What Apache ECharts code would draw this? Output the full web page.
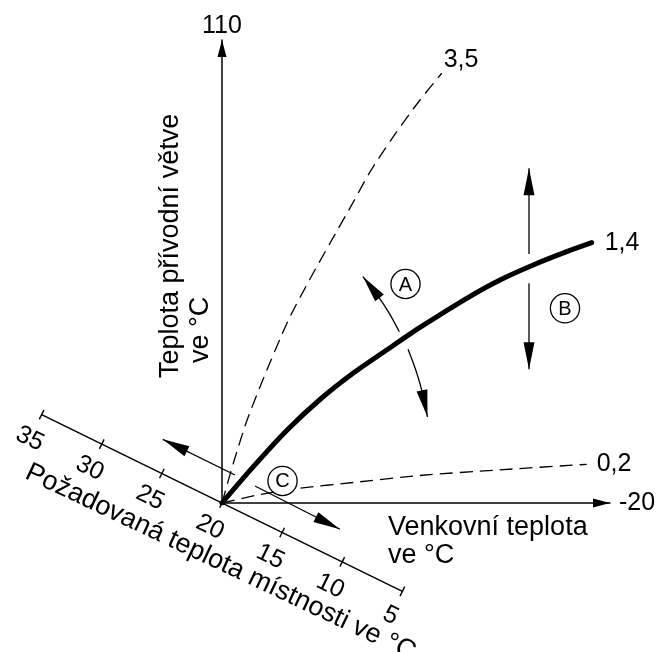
<!DOCTYPE html>
<html>
<head>
<meta charset="utf-8">
<script src="https://cdn.jsdelivr.net/npm/echarts@6/dist/echarts.min.js"></script>
<style>
  html, body { margin: 0; padding: 0; background: #fff; }
  #chart { width: 661px; height: 652px; }
</style>
</head>
<body>
<div id="chart"></div>
<script>
// axis ranges (outdoor temperature runs right to -20, flow temperature up to 110)
const outdoorRange = [-20, 20];
const flowRange = [20, 110];
// desired room temperature, slanted axis
const roomTicks = [35, 30, 25, 20, 15, 10, 5];
const roomAtOrigin = 20;

// heating curves: [outdoor °C, flow °C]
const curve35 = [[20, 20], [18.84, 27.68], [17.45, 35.94], [15.67, 44.49], [13.2, 55.38], [10.93, 63.55], [8.87, 70.49],
  [6.46, 78.51], [4.74, 84.35], [2.34, 91.21], [-0.41, 98.34], [-2.65, 103.53]];
const curve14 = [[20, 20], [16.77, 27.06], [13.33, 34.09], [9.9, 40.12], [6.46, 45.27], [3.02, 49.74], [-0.41, 54.12],
  [-5.23, 59.79], [-8.66, 63.35], [-12.09, 66.27], [-15.54, 68.85], [-18.11, 70.6]];
const curve02 = [[20, 20], [16.08, 21.65], [11.96, 22.86], [6.46, 23.99], [-0.41, 25.35], [-8.66, 26.45], [-17.6, 27.52]];
const curveNames = ['3,5', '1,4', '0,2'];

// annotation arrows, last point = arrow tip
const arrowAUp = [[1.72, 53.3], [2.8, 57.01], [4.08, 60.65], [5.48, 64.01]];
const arrowADown = [[0.82, 49.88], [-0.02, 45.6], [-0.69, 41.23], [-1.18, 36.76]];
const arrowBUp = [[-11.65, 68.41], [-11.65, 85.07]];
const arrowBDown = [[-11.65, 62.71], [-11.65, 45.99]];
const arrowCLeft = [[18.66, 25.44], [26.11, 32.38]];
const arrowCRight = [[16.6, 23.3], [7.84, 14.89]];
const markerNames = ['A', 'B', 'C'];
const markerPos = [[1.08, 62.57], [-15.36, 57.85], [13.76, 24.28]];

const FONT = 'Liberation Sans, Arial, sans-serif';
const ROOM_ANGLE = 26.1 * Math.PI / 180;
const ROOM_STEP = 13.39; // px per °C on the slanted axis
const TITLE_ANGLE = 25.3 * Math.PI / 180;

const arrows = [arrowAUp, arrowADown, arrowBUp, arrowBDown, arrowCLeft, arrowCRight];
const curves = [curve35, curve14, curve02];
const labelOffsets = [[2, -13], [13, 0], [10, 0]];

function roomPoint(api, t) {
  const o = api.coord([outdoorRange[1], flowRange[0]]);
  const d = (roomAtOrigin - t) * ROOM_STEP;
  return [o[0] + d * Math.cos(ROOM_ANGLE), o[1] + d * Math.sin(ROOM_ANGLE)];
}

function renderRoomAxis(params, api) {
  const t = roomTicks[params.dataIndex];
  const p = roomPoint(api, t);
  const nx = -Math.sin(ROOM_ANGLE), ny = Math.cos(ROOM_ANGLE);
  const children = [
    { type: 'line', shape: { x1: p[0] - nx * 5.3, y1: p[1] - ny * 5.3, x2: p[0] + nx * 5.3, y2: p[1] + ny * 5.3 },
      style: { stroke: '#000', lineWidth: 1.4 } },
    { type: 'text', x: p[0] + nx * 27, y: p[1] + ny * 27, rotation: -ROOM_ANGLE,
      style: { text: String(t), fontSize: 25, fontFamily: FONT, fill: '#000', align: 'center', verticalAlign: 'middle' } }
  ];
  if (params.dataIndex === 0) {
    const a = roomPoint(api, roomTicks[0]);
    const b = roomPoint(api, roomTicks[roomTicks.length - 1]);
    children.push({ type: 'line', shape: { x1: a[0], y1: a[1], x2: b[0], y2: b[1] }, style: { stroke: '#000', lineWidth: 1.5 } });
  }
  return { type: 'group', children: children };
}

function renderArrow(params, api) {
  const pts = arrows[params.dataIndex].map(p => api.coord(p));
  const tip = pts[pts.length - 1], prev = pts[pts.length - 2];
  const dx = tip[0] - prev[0], dy = tip[1] - prev[1];
  const len = Math.hypot(dx, dy);
  const ux = dx / len, uy = dy / len;
  const L = 27, W = 11;
  const bx = tip[0] - ux * L, by = tip[1] - uy * L;
  return {
    type: 'group',
    children: [
      { type: 'polyline', shape: { points: pts, smooth: pts.length > 2 ? 0.3 : 0 },
        style: { stroke: '#000', lineWidth: 1.3, fill: null } },
      { type: 'polygon', shape: { points: [tip, [bx - uy * W / 2, by + ux * W / 2], [bx + uy * W / 2, by - ux * W / 2]] },
        style: { fill: '#000' } }
    ]
  };
}

function renderMarker(params, api) {
  const p = api.coord(markerPos[params.dataIndex]);
  return {
    type: 'group',
    children: [
      { type: 'circle', shape: { cx: p[0], cy: p[1], r: 14.6 }, style: { fill: '#fff', stroke: '#000', lineWidth: 1.3 } },
      { type: 'text', x: p[0], y: p[1] + 1, style: { text: markerNames[params.dataIndex], fontSize: 20, fontFamily: FONT,
        fill: '#000', align: 'center', verticalAlign: 'middle' } }
    ]
  };
}

function renderCurveLabel(params, api) {
  const c = curves[params.dataIndex];
  const p = api.coord(c[c.length - 1]);
  const off = labelOffsets[params.dataIndex];
  return { type: 'text', x: p[0] + off[0], y: p[1] + off[1],
    style: { text: curveNames[params.dataIndex], fontSize: 25, fontFamily: FONT, fill: '#000', align: 'left', verticalAlign: 'middle' } };
}

function titleText(text, x, y, rotation) {
  return { type: 'text', x: x, y: y, rotation: rotation || 0,
    style: { text: text, fontSize: 27, fontFamily: FONT, fill: '#000', align: 'left', verticalAlign: 'middle' } };
}

const chart = echarts.init(document.getElementById('chart'));
chart.setOption({
  animation: false,
  backgroundColor: '#fff',
  grid: { left: 222, right: 51, top: 40, bottom: 149, outerBoundsMode: 'none' },
  xAxis: {
    type: 'value', min: outdoorRange[0], max: outdoorRange[1], inverse: true,
    name: String(outdoorRange[0]), nameLocation: 'start', nameGap: 9,
    nameTextStyle: { fontSize: 25, fontFamily: FONT, color: '#000' },
    axisLine: { onZero: false, symbol: ['none', 'triangle'], symbolSize: [9, 17], symbolOffset: [0, -8.5],
      lineStyle: { color: '#000', width: 1.5 } },
    axisTick: { show: false }, axisLabel: { show: false }, splitLine: { show: false }
  },
  yAxis: {
    type: 'value', min: flowRange[0], max: flowRange[1],
    name: String(flowRange[1]), nameLocation: 'end', nameGap: 1,
    nameTextStyle: { fontSize: 25, fontFamily: FONT, color: '#000' },
    axisLine: { onZero: false, symbol: ['none', 'triangle'], symbolSize: [9, 17], symbolOffset: [0, -8.5],
      lineStyle: { color: '#000', width: 1.5 } },
    axisTick: { show: false }, axisLabel: { show: false }, splitLine: { show: false }
  },
  graphic: {
    elements: [
      titleText('Teplota přívodní větve', 171, 378, Math.PI / 2),
      titleText('ve °C', 201, 363, Math.PI / 2),
      titleText('Venkovní teplota', 388, 528),
      titleText('ve °C', 388, 556),
      titleText('Požadovaná teplota místnosti ve °C', 27, 471, -TITLE_ANGLE)
    ]
  },
  series: [
    { type: 'line', data: curve35, symbol: 'none', smooth: 0.25, z: 2,
      lineStyle: { color: '#000', width: 1.3, type: [13, 7] } },
    { type: 'line', data: curve02, symbol: 'none', smooth: 0.25, z: 2,
      lineStyle: { color: '#000', width: 1.3, type: [13, 7] } },
    { type: 'line', data: curve14, symbol: 'none', smooth: 0.25, z: 2,
      lineStyle: { color: '#000', width: 5, cap: 'round' } },
    { type: 'custom', renderItem: renderRoomAxis, clip: false, z: 3,
      data: roomTicks.map(t => [outdoorRange[1], flowRange[0], t]), encode: { x: 0, y: 1 } },
    { type: 'custom', renderItem: renderArrow, clip: false, z: 3,
      data: arrows.map(a => a[0]), encode: { x: 0, y: 1 } },
    { type: 'custom', renderItem: renderCurveLabel, clip: false, z: 3,
      data: curves.map(c => c[c.length - 1]), encode: { x: 0, y: 1 } },
    { type: 'custom', renderItem: renderMarker, clip: false, z: 4,
      data: markerPos, encode: { x: 0, y: 1 } }
  ]
});
</script>
</body>
</html>
